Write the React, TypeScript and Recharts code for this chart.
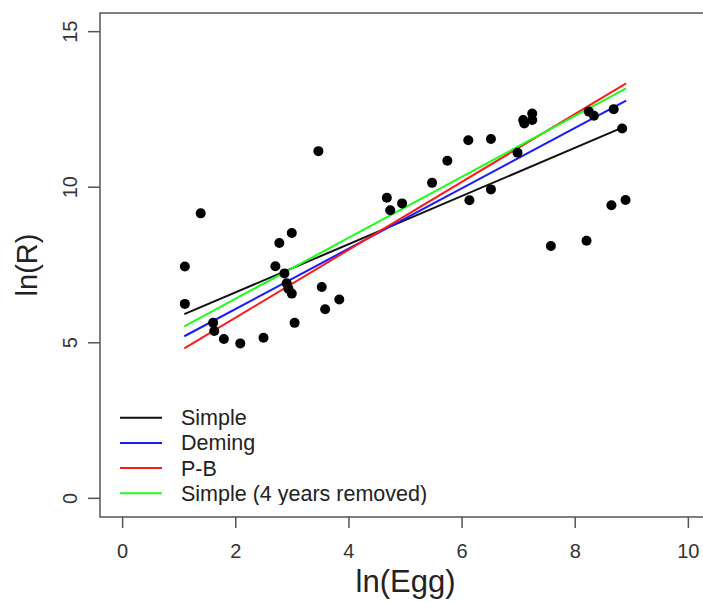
import React from "react";
import {
  ComposedChart,
  XAxis,
  YAxis,
  Scatter,
  Line,
  ReferenceArea,
  Label,
} from "recharts";

// ln(Egg) vs ln(R) observations
const eggX = [
  1.1, 1.1, 1.38, 1.6, 1.62, 1.79, 2.08, 2.49, 2.7, 2.77, 2.99, 2.86, 2.9, 2.93,
  2.99, 3.04, 3.46, 3.52, 3.58, 3.83, 4.67, 4.73, 4.94, 5.47, 5.74, 6.11, 6.13,
  6.51, 6.51, 6.98, 7.08, 7.1, 7.24, 7.24, 7.57, 8.2, 8.24, 8.33, 8.64, 8.68,
  8.83, 8.89,
];
const recruitY = [
  7.45, 6.25, 9.16, 5.64, 5.38, 5.12, 4.98, 5.16, 7.46, 8.21, 8.53, 7.23, 6.91,
  6.74, 6.58, 5.64, 11.16, 6.79, 6.08, 6.39, 9.66, 9.26, 9.48, 10.14, 10.85,
  11.51, 9.58, 11.55, 9.93, 11.11, 12.16, 12.05, 12.37, 12.16, 8.11, 8.28, 12.43,
  12.3, 9.42, 12.51, 11.89, 9.59,
];

// fitted lines: [start, end]
const simpleX = [1.09, 8.8];
const simpleY = [5.92, 11.89];
const demingX = [1.09, 8.9];
const demingY = [5.21, 12.78];
const pbX = [1.09, 8.9];
const pbY = [4.82, 13.34];
const simple4X = [1.09, 8.9];
const simple4Y = [5.53, 13.18];

const xTicks = [0, 2, 4, 6, 8, 10];
const yTicks = [0, 5, 10, 15];

const points = eggX.map((x, i) => ({ x, y: recruitY[i] }));
const toLine = (xs: number[], ys: number[]) => xs.map((x, i) => ({ x, y: ys[i] }));

const series = [
  { name: "Simple", color: "#111111", data: toLine(simpleX, simpleY) },
  { name: "Deming", color: "#1a1aff", data: toLine(demingX, demingY) },
  { name: "P-B", color: "#ff1a1a", data: toLine(pbX, pbY) },
  { name: "Simple (4 years removed)", color: "#1aff1a", data: toLine(simple4X, simple4Y) },
];

const FONT = "'Liberation Sans', Arial, sans-serif";

const YTick = ({ x, y, payload }: any) => (
  <text
    x={x}
    y={y}
    transform={`rotate(-90, ${x}, ${y})`}
    textAnchor="middle"
    fontSize={20}
    fill="#333"
    fontFamily={FONT}
  >
    {payload.value}
  </text>
);

const Dot = ({ cx, cy }: any) => <circle cx={cx} cy={cy} r={5} fill="#000" />;

export default function App() {
  return (
    <div
      style={{
        position: "fixed",
        left: 0,
        top: 0,
        width: 703,
        height: 602,
        overflow: "hidden",
        background: "#fff",
        fontFamily: FONT,
      }}
    >
      <ComposedChart
        width={760}
        height={602}
        margin={{ top: 13, right: 49, left: 0, bottom: 0 }}
      >
        <XAxis
          type="number"
          dataKey="x"
          domain={[-0.4, 10.4]}
          ticks={xTicks}
          allowDataOverflow
          height={85}
          tickSize={11}
          tickMargin={16}
          axisLine={false}
          tickLine={{ stroke: "#555", strokeWidth: 1.5 }}
          tick={{ fontSize: 20, fill: "#333", fontFamily: FONT }}
        >
          <Label
            value="ln(Egg)"
            position="insideBottom"
            offset={10}
            fontSize={31}
            fill="#222"
            fontFamily={FONT}
          />
        </XAxis>
        <YAxis
          type="number"
          dataKey="y"
          domain={[-0.6, 15.6]}
          ticks={yTicks}
          allowDataOverflow
          width={100}
          tickSize={12}
          tickMargin={11}
          axisLine={false}
          tickLine={{ stroke: "#555", strokeWidth: 1.5 }}
          tick={<YTick />}
        >
          <Label
            value="ln(R)"
            position="insideLeft"
            angle={-90}
            offset={27}
            fontSize={29}
            fill="#222"
            fontFamily={FONT}
            style={{ textAnchor: "middle" }}
          />
        </YAxis>
        <ReferenceArea
          x1={-0.4}
          x2={10.4}
          y1={-0.6}
          y2={15.6}
          fill="none"
          stroke="#555"
          strokeWidth={1.5}
          ifOverflow="visible"
        />
        <Scatter data={points} shape={<Dot />} isAnimationActive={false} />
        {series.map((s) => (
          <Line
            key={s.name}
            data={s.data}
            dataKey="y"
            type="linear"
            stroke={s.color}
            strokeWidth={2}
            dot={false}
            activeDot={false}
            isAnimationActive={false}
          />
        ))}
      </ComposedChart>
      <svg
        width={320}
        height={100}
        style={{ position: "absolute", left: 110, top: 405 }}
      >
        {series.map((s, i) => (
          <g key={s.name} transform={`translate(0, ${12.7 + i * 25.2})`}>
            <line x1={10} x2={52} y1={0} y2={0} stroke={s.color} strokeWidth={2} />
            <text x={71} y={7.5} fontSize={21.5} fill="#222" fontFamily={FONT}>
              {s.name}
            </text>
          </g>
        ))}
      </svg>
    </div>
  );
}
